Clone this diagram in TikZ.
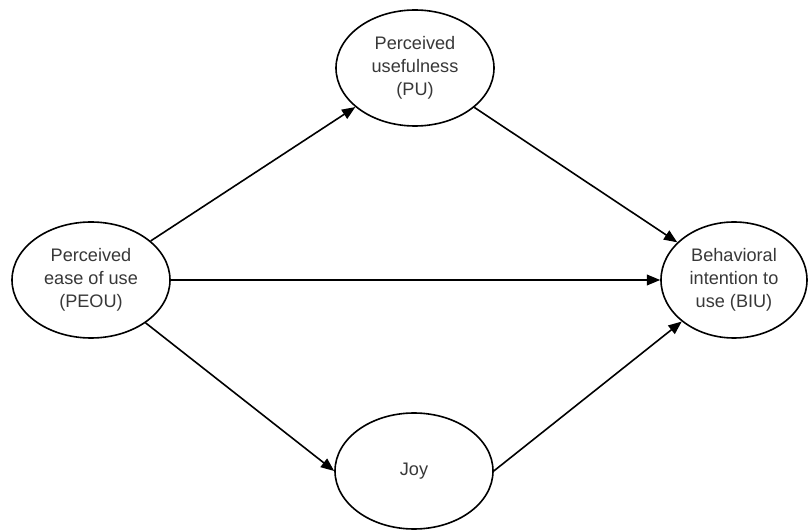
\documentclass[tikz,border=0pt]{standalone}
\usepackage{fontspec}
\setmainfont{Liberation Sans}
\usetikzlibrary{arrows.meta,shapes.geometric}
\tikzset{
    construct-node/.style = {draw=black, fill=white, line width=1.2pt, ellipse, inner sep=0pt, minimum width=118.5pt, minimum height=87pt, align=center, text=black!78, font=\fontsize{13.6}{17.3}\selectfont},
    path-arrow/.style = {draw=black, line width=1.2pt, -{Triangle[length=10pt, width=8pt]}},
}

\begin{document}
\begin{tikzpicture}[x=0.75pt, y=-0.75pt]
\useasboundingbox (0,0) rectangle (808,531);
\node [construct-node] (peou) at (91,280) {Perceived\\ease of use\\(PEOU)};
\node [construct-node] (pu) at (415,68) {Perceived\\usefulness\\(PU)};
\node [construct-node] (joy) at (414,471) {Joy};
\node [construct-node, minimum width=109.5pt] (biu) at (734,280) {Behavioral\\intention to\\use (BIU)};

\draw [path-arrow] (peou) -- (pu);
\draw [path-arrow] (pu) -- (biu);
\draw [path-arrow] (peou) -- (biu);
\draw [path-arrow] (peou) -- (joy.west);
\draw [path-arrow] (joy.east) -- (biu);
\end{tikzpicture}
\end{document}
